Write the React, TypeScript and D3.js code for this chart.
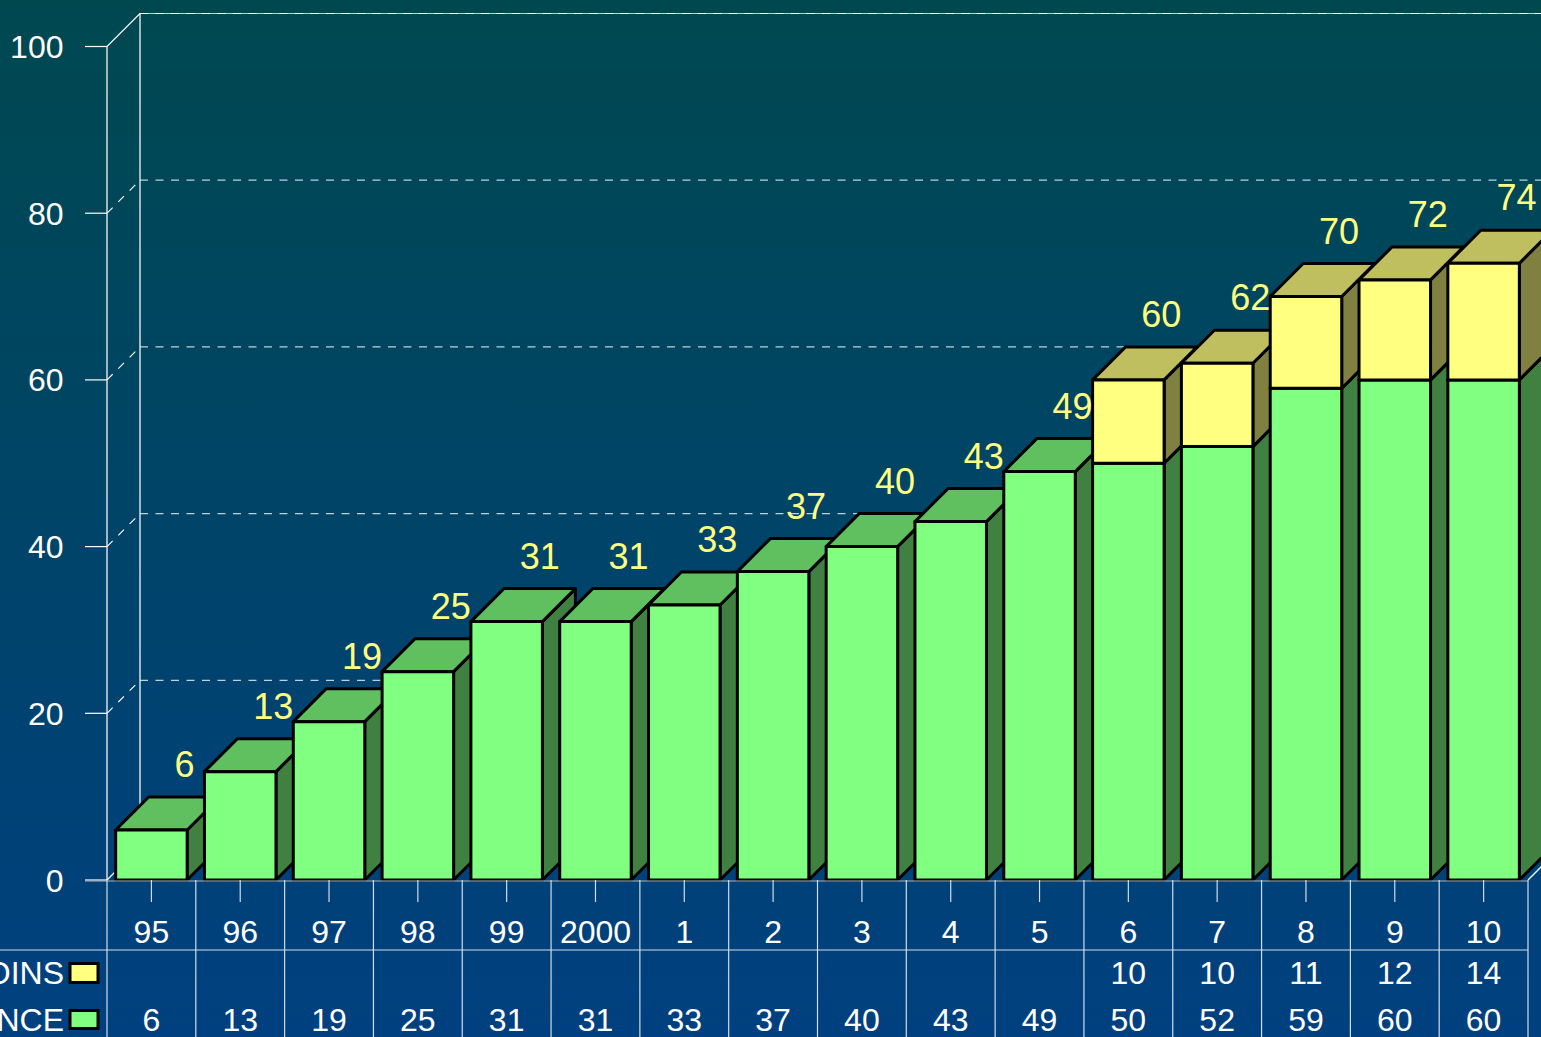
import React from 'react';
import * as d3 from 'd3';

const years = ['95', '96', '97', '98', '99', '2000', '1', '2', '3', '4', '5', '6', '7', '8', '9', '10'];
const greenValues = [6, 13, 19, 25, 31, 31, 33, 37, 40, 43, 49, 50, 52, 59, 60, 60];
const yellowValues = [0, 0, 0, 0, 0, 0, 0, 0, 0, 0, 0, 10, 10, 11, 12, 14];
const yTicks = [0, 20, 40, 60, 80, 100];
const seriesNames = ['green', 'yellow'];
const legendNames = ['CROISSANCE', 'BESOINS'];

const W = 1541;
const H = 1037;
const depth = 33;
const font = '"Liberation Sans", Arial, sans-serif';

const colors: Record<string, { front: string; side: string; top: string }> = {
  green: { front: '#80ff80', side: '#408040', top: '#60c060' },
  yellow: { front: '#ffff80', side: '#808040', top: '#bfbf60' },
};

const rows = years.map((_, i) => ({ i, green: greenValues[i], yellow: yellowValues[i] }));

export default function App() {
  const x = d3.scaleBand<number>().domain(years.map((_, i) => i)).range([107, 1528]);
  const y = d3.scaleLinear().domain([0, 100]).range([880, 46.5]);
  const stacked = d3.stack<any>().keys(seriesNames)(rows);
  const line = d3.line();

  const barW = 71.5;
  const barX = (i: number) => x(i)! + (x.bandwidth() - barW) / 2;
  const center = (i: number) => x(i)! + x.bandwidth() / 2;

  const poly = (pts: [number, number][]) => line(pts) + 'Z';
  const edges = [...x.domain().map(d => x(d)!), 1528];

  return (
    <svg
      width={W}
      height={H}
      style={{ position: 'fixed', left: 0, top: 0, display: 'block' }}
      fontFamily={font}
    >
      <defs>
        <linearGradient id="bg" x1="0" y1="0" x2="0" y2="1">
          <stop offset="0" stopColor="#004850" />
          <stop offset="1" stopColor="#004080" />
        </linearGradient>
      </defs>
      <rect width={W} height={H} fill="url(#bg)" />

      {/* walls and grid */}
      {yTicks.map(t => (
        <g key={t}>
          {t > 0 && (
            <>
              <line x1={107} x2={107 + depth} y1={y(t)} y2={y(t) - depth}
                stroke="#ffffff" strokeWidth={1.1} strokeDasharray={t === 100 ? undefined : '8 8'} />
              <line x1={140} x2={W} y1={y(t) - depth} y2={y(t) - depth}
                stroke="#b8d4d8" strokeWidth={1.2} strokeDasharray={t === 100 ? undefined : '8 7.5'} />
              {t === 100 && (
                <line x1={140} x2={W} y1={y(t) - depth} y2={y(t) - depth}
                  stroke="#ffffff" strokeWidth={1.2} strokeDasharray="8 7.5" />
              )}
            </>
          )}
          <line x1={85} x2={107} y1={y(t)} y2={y(t)} stroke="#ffffff" strokeWidth={1.2} />
          <text x={63.5} y={y(t) + 11.5} textAnchor="end" fontSize={32} fill="#ffffff">{t}</text>
        </g>
      ))}
      <line x1={107} x2={107} y1={y(100)} y2={880} stroke="#f4f8fa" strokeWidth={1.3} />
      <line x1={140} x2={140} y1={y(100) - depth} y2={880 - depth} stroke="#f4f8fa" strokeWidth={1.3} />
      <line x1={107} x2={107 + depth} y1={880} y2={880 - depth} stroke="#f4f8fa" strokeWidth={1.3} />
      <line x1={1528} x2={1528 + depth} y1={880} y2={880 - depth} stroke="#f4f8fa" strokeWidth={1.3} />

      {/* bars */}
      {rows.map(r => (
        <g key={r.i} stroke="#000" strokeWidth={3} strokeLinejoin="round">
          {stacked.map(layer => {
            const [v0, v1] = layer[r.i];
            if (v1 === v0) return null;
            const c = colors[layer.key];
            const x0 = barX(r.i);
            const x1 = x0 + barW;
            const y0 = y(v0);
            const y1 = y(v1);
            return (
              <g key={layer.key}>
                <path d={poly([[x1, y0], [x1 + depth, y0 - depth], [x1 + depth, y1 - depth], [x1, y1]])} fill={c.side} />
                <path d={poly([[x0, y1], [x0 + depth, y1 - depth], [x1 + depth, y1 - depth], [x1, y1]])} fill={c.top} />
                <path d={poly([[x0, y0], [x1, y0], [x1, y1], [x0, y1]])} fill={c.front} />
              </g>
            );
          })}
        </g>
      ))}

      {/* totals */}
      {rows.map(r => (
        <text key={r.i} x={center(r.i) + depth} y={y(r.green + r.yellow) - depth - 20}
          textAnchor="middle" fontSize={36} fill="#ffff80">
          {r.green + r.yellow}
        </text>
      ))}

      {/* axis line and data table */}
      <line x1={85} x2={1528} y1={881} y2={881} stroke="#a8b4bc" strokeWidth={1.2} />
      <line x1={0} x2={1528} y1={950} y2={950} stroke="#d0dce8" strokeWidth={1.2} />
      {edges.map((e, i) => (
        <line key={i} x1={e} x2={e} y1={880} y2={H} stroke="#d0dce8" strokeWidth={1.2} />
      ))}
      {rows.map(r => (
        <g key={r.i} textAnchor="middle" fontSize={32} fill="#ffffff">
          <line x1={center(r.i)} x2={center(r.i)} y1={880} y2={902} stroke="#d0dce8" strokeWidth={1.2} />
          <text x={center(r.i)} y={943}>{years[r.i]}</text>
          {r.yellow > 0 && <text x={center(r.i)} y={984}>{r.yellow}</text>}
          <text x={center(r.i)} y={1031}>{r.green}</text>
        </g>
      ))}

      {/* legend keys, clipped by the left edge as in the source */}
      <text x={64} y={984} textAnchor="end" fontSize={32} fill="#ffffff">{legendNames[1]}</text>
      <text x={64} y={1031} textAnchor="end" fontSize={32} fill="#ffffff">{legendNames[0]}</text>
      <rect x={70} y={963.5} width={28} height={19} fill={colors.yellow.front} stroke="#000" strokeWidth={3} />
      <rect x={70} y={1010.5} width={28} height={18} fill={colors.green.front} stroke="#000" strokeWidth={3} />
    </svg>
  );
}
